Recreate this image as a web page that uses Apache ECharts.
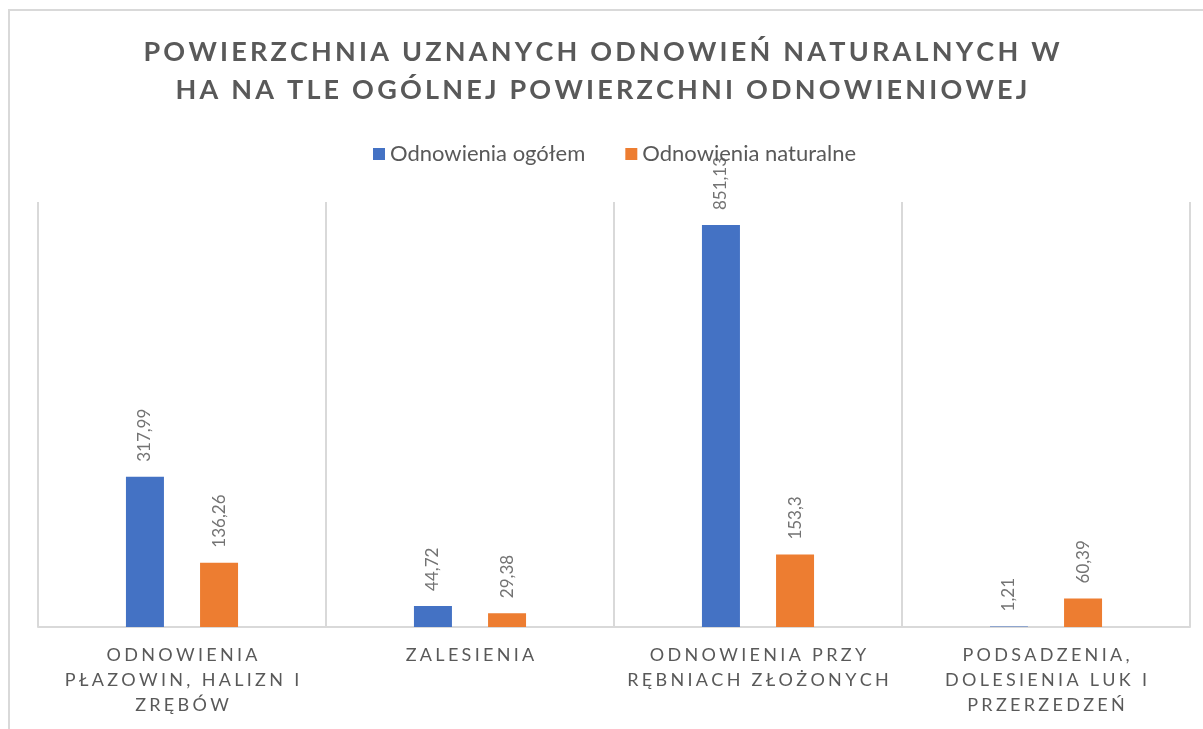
<!DOCTYPE html>
<html>
<head>
<meta charset="utf-8">
<script src="https://cdn.jsdelivr.net/npm/echarts@6/dist/echarts.min.js"></script>
<style>
  html, body { margin: 0; padding: 0; background: #fff; overflow: hidden; }
  #frame { position: absolute; left: 8px; top: 9px; width: 1250px; height: 800px; border: 2px solid #d9d9d9; box-sizing: border-box; }
  #chart { position: absolute; left: 0; top: 0; width: 1203px; height: 729px; }
</style>
</head>
<body>
<div id="frame"></div>
<div id="chart"></div>
<script>
// kategorie (z podziałem na linie jak w oryginale)
const categories = [
  "ODNOWIENIA\nPŁAZOWIN, HALIZN I\nZRĘBÓW",
  "ZALESIENIA",
  "ODNOWIENIA PRZY\nRĘBNIACH ZŁOŻONYCH",
  "PODSADZENIA,\nDOLESIENIA LUK I\nPRZERZEDZEŃ"
];
const seriesNames = ["Odnowienia ogółem", "Odnowienia naturalne"];
const ogolem = [317.99, 44.72, 851.13, 1.21];
const naturalne = [136.26, 29.38, 153.3, 60.39];
const titleText = "POWIERZCHNIA UZNANYCH ODNOWIEŃ NATURALNYCH W\nHA NA TLE OGÓLNEJ POWIERZCHNI ODNOWIENIOWEJ";

const textColor = "#595959";
const fontFamily = "Lato, 'Open Sans', sans-serif";

// rozstrzelony tekst: każda litera jako osobny token rich z paddingiem
function spaced(str, style) {
  return str.split("\n").map(line =>
    Array.from(line).map(c => "{" + style + "|" + c + "}").join("")
  ).join("\n");
}

let myChart = echarts.init(document.getElementById("chart"));

const fmt = (p) => String(p.value).replace(".", ",");

const barLabel = {
  show: true,
  position: "top",
  rotate: 90,
  align: "left",
  verticalAlign: "middle",
  distance: 15,
  color: "#737373",
  fontSize: 17,
  formatter: fmt
};

myChart.setOption({
  textStyle: { fontFamily: fontFamily },
  title: {
    text: spaced(titleText, "t"),
    left: "center",
    top: 28,
    textStyle: {
      rich: {
        t: {
          color: textColor,
          fontSize: 27,
          fontWeight: "bold",
          lineHeight: 38,
          fontFamily: fontFamily,
          padding: [0, 1.6, 0, 1.6]
        }
      }
    }
  },
  legend: {
    data: seriesNames,
    top: 138,
    left: 368,
    icon: "rect",
    itemWidth: 12,
    itemHeight: 12,
    itemGap: 40,
    textStyle: { color: textColor, fontSize: 22, fontFamily: fontFamily }
  },
  grid: {
    left: 38,
    right: 13,
    top: 202,
    bottom: 102
  },
  xAxis: {
    type: "category",
    data: categories,
    axisTick: { show: false },
    axisLine: { lineStyle: { color: "#d9d9d9", width: 2 } },
    splitLine: { show: true, lineStyle: { color: "#d9d9d9", width: 2 } },
    axisLabel: {
      interval: 0,
      margin: 16,
      formatter: (v) => spaced(v, "c"),
      rich: {
        c: {
          color: textColor,
          fontSize: 18,
          lineHeight: 25,
          fontFamily: fontFamily,
          padding: [0, 1.65, 0, 1.65]
        }
      }
    }
  },
  yAxis: {
    type: "value",
    min: 0,
    max: 900,
    show: false,
    splitLine: { show: false }
  },
  series: [
    {
      name: seriesNames[0],
      type: "bar",
      data: ogolem,
      barWidth: 38,
      barGap: "95%",
      itemStyle: { color: "#4472c4" },
      label: barLabel
    },
    {
      name: seriesNames[1],
      type: "bar",
      data: naturalne,
      barWidth: 38,
      itemStyle: { color: "#ed7d31" },
      label: barLabel
    }
  ]
});

window.addEventListener("resize", () => {
  myChart.resize();
});
</script>
</body>
</html>
